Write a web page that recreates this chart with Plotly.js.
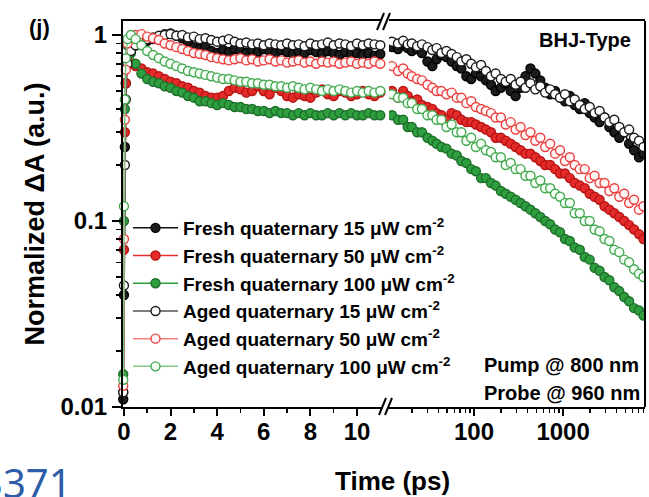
<!DOCTYPE html>
<html>
<head>
<meta charset="utf-8">
<script src="https://cdn.plot.ly/plotly-3.0.1.min.js"></script>
<style>html,body{margin:0;padding:0;background:#fff;}#chart{width:649px;height:497px;}</style>
</head>
<body>
<div id="chart"></div>
<script>
// ---- time axes (ps) ----
const tLeft = [-0.03, 0, 0.04, 0.08, 0.15, 0.3, 0.5, 0.75, 1, 1.25, 1.5, 1.75, 2, 2.25, 2.5, 2.75, 3, 3.25, 3.5, 3.75, 4, 4.25, 4.5, 4.75, 5, 5.25, 5.5, 5.75, 6, 6.25, 6.5, 6.75, 7, 7.25, 7.5, 7.75, 8, 8.25, 8.5, 8.75, 9, 9.25, 9.5, 9.75, 10, 10.25, 10.5, 10.75, 11];
const tRight = [12, 14, 16, 18, 20, 23, 26, 30, 34, 38, 43, 49, 56, 64, 72, 82, 93, 105, 120, 136, 155, 175, 200, 227, 258, 293, 333, 378, 430, 488, 555, 630, 716, 813, 924, 1050, 1190, 1350, 1540, 1750, 1990, 2260, 2570, 2920, 3310, 3760, 4280, 4860, 5520, 6270, 7120, 8000];

// ---- series names ----
const names = [
  "Fresh quaternary 15 μW cm<sup>-2</sup>",
  "Fresh quaternary 50 μW cm<sup>-2</sup>",
  "Fresh quaternary 100 μW cm<sup>-2</sup>",
  "Aged quaternary 15 μW cm<sup>-2</sup>",
  "Aged quaternary 50 μW cm<sup>-2</sup>",
  "Aged quaternary 100 μW cm<sup>-2</sup>"
];

// ---- normalized ΔA, short-time (linear) segment ----
const fresh15L = [0.011, 0.04, 0.25, 0.55, 0.72, 0.85, 0.88, 0.9, 0.93, 0.95, 0.98, 1.01, 1.02, 0.99, 0.96, 0.92, 0.86, 0.84, 0.86, 0.82, 0.8, 0.83, 0.81, 0.84, 0.82, 0.8, 0.83, 0.81, 0.84, 0.82, 0.8, 0.83, 0.81, 0.79, 0.82, 0.8, 0.83, 0.81, 0.79, 0.82, 0.8, 0.78, 0.81, 0.79, 0.8, 0.78, 0.8, 0.77, 0.79];
const fresh50L = [0.012, 0.07, 0.3, 0.55, 0.72, 0.7, 0.68, 0.66, 0.63, 0.62, 0.6, 0.58, 0.56, 0.55, 0.53, 0.52, 0.5, 0.49, 0.47, 0.46, 0.46, 0.47, 0.5, 0.52, 0.51, 0.49, 0.5, 0.53, 0.5, 0.48, 0.52, 0.5, 0.47, 0.46, 0.48, 0.47, 0.46, 0.49, 0.51, 0.48, 0.47, 0.5, 0.49, 0.47, 0.48, 0.5, 0.48, 0.47, 0.49];
const fresh100L = [0.015, 0.1, 0.4, 0.7, 0.88, 0.8, 0.7, 0.62, 0.58, 0.56, 0.55, 0.53, 0.52, 0.5, 0.49, 0.47, 0.46, 0.44, 0.44, 0.43, 0.42, 0.43, 0.42, 0.41, 0.41, 0.4, 0.4, 0.39, 0.39, 0.38, 0.39, 0.38, 0.38, 0.37, 0.38, 0.37, 0.38, 0.37, 0.37, 0.38, 0.37, 0.38, 0.37, 0.38, 0.37, 0.37, 0.38, 0.37, 0.37];
const aged15L = [0.012, 0.045, 0.2, 0.45, 0.7, 0.82, 0.88, 0.92, 0.95, 0.97, 0.99, 1.0, 1.01, 0.99, 1.0, 0.97, 0.98, 0.95, 0.96, 0.94, 0.92, 0.93, 0.95, 0.92, 0.9, 0.91, 0.89, 0.9, 0.88, 0.9, 0.89, 0.88, 0.9, 0.88, 0.89, 0.87, 0.9, 0.88, 0.89, 0.91, 0.88, 0.9, 0.89, 0.87, 0.9, 0.88, 0.9, 0.89, 0.88];
const aged50L = [0.013, 0.08, 0.35, 0.65, 0.9, 0.98, 1.0, 1.01, 0.98, 0.96, 0.94, 0.9, 0.88, 0.86, 0.84, 0.82, 0.8, 0.79, 0.78, 0.76, 0.75, 0.74, 0.73, 0.74, 0.75, 0.73, 0.74, 0.72, 0.73, 0.74, 0.72, 0.73, 0.71, 0.72, 0.73, 0.71, 0.72, 0.7, 0.72, 0.71, 0.72, 0.7, 0.71, 0.72, 0.7, 0.71, 0.7, 0.72, 0.7];
const aged100L = [0.014, 0.12, 0.45, 0.75, 0.95, 1.0, 0.95, 0.88, 0.82, 0.78, 0.75, 0.72, 0.7, 0.68, 0.66, 0.64, 0.63, 0.62, 0.61, 0.6, 0.59, 0.58, 0.58, 0.57, 0.56, 0.56, 0.55, 0.55, 0.54, 0.54, 0.53, 0.53, 0.52, 0.53, 0.52, 0.51, 0.52, 0.51, 0.5, 0.51, 0.5, 0.51, 0.5, 0.49, 0.5, 0.49, 0.5, 0.49, 0.5];

// ---- normalized ΔA, long-time (log) segment ----
const fresh15R = [0.86, 0.84, 0.88, 0.85, 0.82, 0.84, 0.8, 0.72, 0.68, 0.74, 0.78, 0.76, 0.72, 0.68, 0.66, 0.6, 0.58, 0.62, 0.6, 0.57, 0.54, 0.5, 0.52, 0.55, 0.5, 0.47, 0.52, 0.6, 0.66, 0.62, 0.57, 0.52, 0.48, 0.5, 0.46, 0.44, 0.47, 0.42, 0.4, 0.43, 0.38, 0.36, 0.34, 0.36, 0.32, 0.3, 0.28, 0.3, 0.26, 0.24, 0.22, 0.23];
const fresh50R = [0.5, 0.46, 0.5, 0.47, 0.44, 0.45, 0.42, 0.41, 0.4, 0.38, 0.37, 0.35, 0.38, 0.37, 0.35, 0.34, 0.34, 0.33, 0.32, 0.31, 0.3, 0.28, 0.28, 0.27, 0.26, 0.25, 0.24, 0.23, 0.23, 0.22, 0.21, 0.2, 0.2, 0.19, 0.18, 0.18, 0.17, 0.16, 0.155, 0.15, 0.14, 0.135, 0.13, 0.12, 0.115, 0.11, 0.105, 0.1, 0.095, 0.09, 0.085, 0.08];
const fresh100R = [0.37, 0.35, 0.35, 0.32, 0.32, 0.3, 0.3, 0.28, 0.27, 0.26, 0.25, 0.245, 0.23, 0.225, 0.21, 0.205, 0.19, 0.185, 0.17, 0.17, 0.16, 0.155, 0.145, 0.14, 0.135, 0.13, 0.125, 0.12, 0.115, 0.11, 0.105, 0.1, 0.096, 0.09, 0.087, 0.08, 0.078, 0.072, 0.07, 0.064, 0.062, 0.056, 0.054, 0.05, 0.048, 0.044, 0.042, 0.039, 0.037, 0.034, 0.033, 0.031];
const aged15R = [0.92, 0.9, 0.93, 0.89, 0.9, 0.87, 0.89, 0.86, 0.83, 0.85, 0.8, 0.82, 0.79, 0.76, 0.72, 0.74, 0.7, 0.67, 0.69, 0.64, 0.6, 0.62, 0.58, 0.56, 0.58, 0.54, 0.56, 0.52, 0.55, 0.51, 0.53, 0.49, 0.51, 0.48, 0.46, 0.48, 0.44, 0.45, 0.42, 0.4, 0.41, 0.38, 0.39, 0.36, 0.34, 0.35, 0.32, 0.3, 0.31, 0.28, 0.27, 0.25];
const aged50R = [0.68, 0.64, 0.66, 0.62, 0.6, 0.58, 0.57, 0.54, 0.52, 0.5, 0.5, 0.48, 0.49, 0.46, 0.46, 0.43, 0.44, 0.41, 0.4, 0.39, 0.38, 0.36, 0.36, 0.33, 0.34, 0.31, 0.32, 0.29, 0.3, 0.27, 0.28, 0.25, 0.26, 0.23, 0.24, 0.21, 0.22, 0.2, 0.19, 0.19, 0.17, 0.175, 0.16, 0.16, 0.145, 0.15, 0.135, 0.14, 0.125, 0.13, 0.115, 0.12];
const aged100R = [0.48, 0.46, 0.46, 0.43, 0.43, 0.4, 0.4, 0.37, 0.37, 0.35, 0.35, 0.32, 0.33, 0.3, 0.3, 0.27, 0.28, 0.25, 0.26, 0.24, 0.235, 0.22, 0.22, 0.2, 0.205, 0.19, 0.19, 0.175, 0.175, 0.16, 0.165, 0.15, 0.15, 0.14, 0.135, 0.125, 0.125, 0.11, 0.11, 0.1, 0.1, 0.09, 0.088, 0.08, 0.078, 0.07, 0.068, 0.062, 0.06, 0.055, 0.052, 0.05];

// ---- tick labels ----
const yTickVals = [0.01, 0.1, 1];
const yTickText = ["0.01", "0.1", "1"];
const xLeftTicks = [0, 2, 4, 6, 8, 10];
const xRightTicks = [100, 1000];

const leftData = [fresh15L, fresh50L, fresh100L, aged15L, aged50L, aged100L];
const rightData = [fresh15R, fresh50R, fresh100R, aged15R, aged50R, aged100R];

const styles = [
  {fill: "#1c1c1c", edge: "#000000", line: "#111111"},
  {fill: "#e52a2a", edge: "#b81414", line: "#e03030"},
  {fill: "#2f9e3f", edge: "#1d6f2a", line: "#2e9a3c"},
  {fill: "#ffffff", edge: "#1a1a1a", line: "#555555"},
  {fill: "#fff6f6", edge: "#ec4040", line: "#f08080"},
  {fill: "#f5fff5", edge: "#45a852", line: "#80c888"}
];

const FONT = "Liberation Sans, Arial, Helvetica, sans-serif";
const traces = [];
names.forEach((nm, i) => {
  const st = styles[i];
  const common = {
    type: "scatter", mode: "lines+markers", name: nm, legendgroup: "g" + i,
    line: {color: st.line, width: 1.5},
    marker: {size: 9, color: st.fill, line: {color: st.edge, width: 1.4}}
  };
  traces.push(Object.assign({}, common, {x: tLeft, y: leftData[i], xaxis: "x", yaxis: "y", showlegend: true, cliponaxis: false}));
  traces.push(Object.assign({}, common, {x: tRight, y: rightData[i], xaxis: "x2", yaxis: "y", showlegend: false}));
});

const yMinor = [];
[0.01, 0.1].forEach(d => { for (let k = 2; k <= 9; k++) yMinor.push(+(d * k).toPrecision(3)); });
const xRMinor = [];
[10, 100, 1000].forEach(d => { for (let k = 2; k <= 9; k++) xRMinor.push(d * k); });

// paper-coordinate helpers for decoration (px -> paper)
const L = 123, R = 4, T = 21, B = 90, W = 649, H = 497;
const pw = W - L - R, ph = H - T - B;
const px = v => (v - L) / pw;
const py = v => (H - B - v) / ph;

const lineStyle = {color: "#000", width: 2};
const shapes = [
  {type: "line", xref: "paper", yref: "paper", x0: 1, x1: 1, y0: 0, y1: 1, line: lineStyle},
  {type: "line", xref: "paper", yref: "paper", x0: px(377), y0: py(30), x1: px(384), y1: py(13), line: lineStyle},
  {type: "line", xref: "paper", yref: "paper", x0: px(383), y0: py(30), x1: px(390), y1: py(13), line: lineStyle},
  {type: "line", xref: "paper", yref: "paper", x0: px(379), y0: py(415), x1: px(386), y1: py(398), line: lineStyle},
  {type: "line", xref: "paper", yref: "paper", x0: px(385), y0: py(415), x1: px(392), y1: py(398), line: lineStyle}
];

const bold = (size, color) => ({family: FONT, size: size, color: color || "#000", weight: "bold"});

const ann = (text, x, y, font, extra) => Object.assign({
  text: text, xref: "paper", yref: "paper", x: px(x), y: py(y),
  xanchor: "center", yanchor: "middle", showarrow: false, font: font
}, extra || {});

const annotations = [
  ann("(j)", 39, 27, bold(22)),
  ann("BHJ-Type", 585, 40, bold(20)),
  ann("Pump @ 800 nm", 482, 365, bold(20), {xanchor: "left"}),
  ann("Probe @ 960 nm", 482, 393, bold(20), {xanchor: "left"}),
  ann("Time (ps)", 392, 481, bold(26)),
  ann("3371", 74, 482, {family: "Noto Sans, Open Sans, sans-serif", size: 40, color: "#2f5ca8"}, {xanchor: "right"})
];

const axisCommon = {
  showline: true, linecolor: "#000", linewidth: 2, showgrid: false, zeroline: false,
  ticks: "outside", tickcolor: "#000", tickwidth: 2, tickfont: bold(24)
};

const layout = {
  width: W, height: H,
  margin: {l: L, r: R, t: T, b: B},
  paper_bgcolor: "#fff", plot_bgcolor: "#fff",
  showlegend: true,
  legend: {x: px(128), y: py(209), xanchor: "left", yanchor: "top", bgcolor: "rgba(0,0,0,0)",
           font: bold(19), itemwidth: 45, tracegroupgap: 0},
  xaxis: Object.assign({}, axisCommon, {
    domain: [0, px(381)], range: [-0.04, 11.03], anchor: "y", mirror: true,
    tickmode: "array", tickvals: xLeftTicks, ticktext: xLeftTicks.map(String), ticklen: 7,
    ticklabelstandoff: -5,
    minor: {dtick: 1, tick0: 0, ticks: "outside", ticklen: 4, tickwidth: 1.5, tickcolor: "#000"}
  }),
  xaxis2: Object.assign({}, axisCommon, {
    type: "log", domain: [px(389), 1], range: [1.045, 3.92], anchor: "y", mirror: true,
    tickmode: "array", tickvals: xRightTicks, ticktext: xRightTicks.map(String), ticklen: 7,
    ticklabelstandoff: -5,
    minor: {tickmode: "array", tickvals: xRMinor, ticks: "outside", ticklen: 4, tickwidth: 1.5, tickcolor: "#000"}
  }),
  yaxis: Object.assign({}, axisCommon, {
    type: "log", range: [-2, 0.075], anchor: "x",
    tickmode: "array", tickvals: yTickVals, ticktext: yTickText, ticklen: 9,
    minor: {tickmode: "array", tickvals: yMinor, ticks: "outside", ticklen: 5, tickwidth: 1.5, tickcolor: "#000"},
    title: {text: "Normalized ΔA (a.u.)", font: bold(27), standoff: 8}
  }),
  shapes: shapes,
  annotations: annotations
};

Plotly.newPlot("chart", traces, layout, {displayModeBar: false, staticPlot: true});
</script>
</body>
</html>
